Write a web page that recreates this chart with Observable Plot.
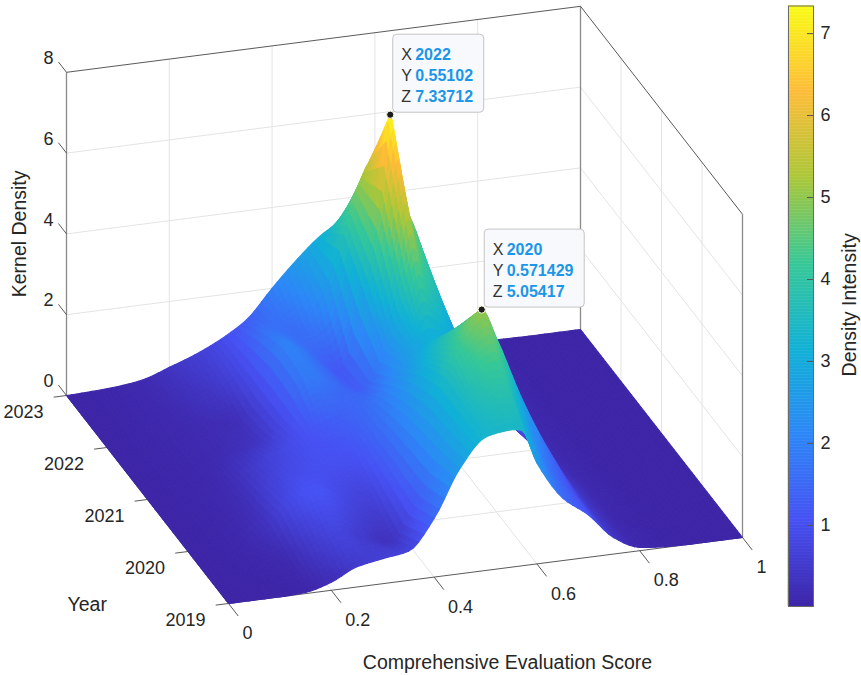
<!DOCTYPE html>
<html><head><meta charset="utf-8">
<script src="https://cdn.jsdelivr.net/npm/d3@7"></script>
<script src="https://cdn.jsdelivr.net/npm/@observablehq/plot@0.6"></script>
<style>
html,body{margin:0;padding:0;background:#fff}
#wrap{position:relative;width:861px;height:675px;overflow:hidden}
#wrap svg{position:absolute;top:0;background:transparent}
</style></head><body><div id="wrap"></div>
<script>
const scores = [0,.05,.1,.15,.2,.25,.3,.35,.4,.45,.5,.53,.551,.571,.6,.65,.7,.75,.8,.85,.9,.95,1];
const years = [2019,2019.5,2020,2020.5,2021,2021.5,2022,2022.5,2023];
const z2019   = [0,0,0,.03,.2,.5,.62,.72,1.45,2.6,3.3,3.38,3.4,3.35,2.5,1.55,1.05,.4,.08,.02,0,0,0];
const z2019h  = [0,.01,.04,.1,.5,.75,.5,.3,1.1,2.4,3.4,3.8,4.0,4.0,3.3,1.9,1.1,.4,.07,.01,0,0,0];
const z2020   = [0,.02,.08,.3,.85,1.1,.85,.65,1.2,2.3,3.5,4.3,4.8,5.054,4.3,2.7,1.4,.4,.08,.02,0,0,0];
const z2020h  = [0,.02,.06,.2,.65,.9,1.0,1.0,1.3,2.1,3.1,3.6,3.9,4.0,3.4,2.2,1.1,.3,.06,.01,0,0,0];
const z2021   = [0,.02,.05,.15,.45,.75,1.0,1.2,1.4,1.8,2.5,2.9,3.0,3.0,2.7,1.7,.8,.22,.05,.01,0,0,0];
const z2021h  = [0,.02,.05,.1,.2,.35,.9,1.9,1.6,1.3,2.2,3.5,5.0,4.3,3.6,2.1,.9,.25,.05,.01,0,0,0];
const z2022   = [0,.02,.05,.1,.15,.22,.9,2.0,1.6,1.15,3.0,5.0,7.337,5.4,4.4,2.4,1.0,.3,.06,.01,0,0,0];
const z2022h  = [0,.02,.06,.13,.28,.48,.9,1.7,1.6,2.2,3.8,5.0,5.5,4.9,3.8,2.0,.9,.27,.05,.01,0,0,0];
const z2023   = [0,.02,.06,.15,.37,.6,.9,1.3,2.0,2.65,3.2,3.4,3.5,3.4,2.9,1.6,.8,.25,.05,.01,0,0,0];
const surface = [z2019,z2019h,z2020,z2020h,z2021,z2021h,z2022,z2022h,z2023];
const zTicks = [0,2,4,6,8];
const yearTicks = [2019,2020,2021,2022,2023];
const scoreTicks = [0,.2,.4,.6,.8,1];
const scoreLabels = ["0","0.2","0.4","0.6","0.8","1"];
const barTicks = [1,2,3,4,5,6,7];
const tips = [
  {year:2022,score:0.55102,z:7.33712,ys:"2022",ss:"0.55102",zs:"7.33712",w:91},
  {year:2020,score:0.571429,z:5.05417,ys:"2020",ss:"0.571429",zs:"5.05417",w:100}
];
const parula = ["#3E26A8","#4752F4","#2D87F7","#11B1D6","#37C897","#ABC738","#FEBC38","#F9FB15"];
const zDomain = [0.01,7.337];
const colorScale = {type:"linear",domain:zDomain,interpolate:d3.piecewise(d3.interpolateRgb,parula)};
const font = "'Liberation Sans',Arial,sans-serif";

// orthographic view of the box: score, year, density -> page position
const px = (s,y) => 228 + 514*s - 162*(y-2019)/4;
const py = (s,y,z) => 603 - 66*s - 208*(y-2019)/4 - 40.4*z;
const seg = (s1,y1,z1,s2,y2,z2) => ({x1:px(s1,y1),y1:py(s1,y1,z1),x2:px(s2,y2),y2:py(s2,y2,z2)});
const linkOf = (data,o) => Plot.link(data,{x1:"x1",y1:"y1",x2:"x2",y2:"y2",...o});

// shading of the mesh: monotone curve along the score, straight between year rows
const slopes = surface.map(row => {
  const d = row.slice(1).map((v,j)=>(v-row[j])/(scores[j+1]-scores[j]));
  return row.map((_,j)=> j===0||j===row.length-1 ? 0 : (d[j-1]*d[j]<=0 ? 0 : 2*d[j-1]*d[j]/(d[j-1]+d[j])));
});
const along = (i,j,v) => {
  const h=scores[j+1]-scores[j], a=surface[i][j], b=surface[i][j+1], m0=slopes[i][j], m1=slopes[i][j+1];
  const v2=v*v, v3=v2*v;
  return (2*v3-3*v2+1)*a+(v3-2*v2+v)*h*m0+(-2*v3+3*v2)*b+(v3-v2)*h*m1;
};
const NT = 8, NS = 5, patches = [];
for (let i=0;i<years.length-1;i++) for (let j=0;j<scores.length-1;j++) for (let a=0;a<NT;a++) for (let b=0;b<NS;b++) {
  const at = (u,v) => ({
    s:scores[j]+(scores[j+1]-scores[j])*v,
    y:years[i]+(years[i+1]-years[i])*u,
    z:(1-u)*along(i,j,v)+u*along(i+1,j,v)
  });
  const c = [at(a/NT,b/NS),at(a/NT,(b+1)/NS),at((a+1)/NT,(b+1)/NS),at((a+1)/NT,b/NS)];
  const m = at((a+.5)/NT,(b+.5)/NS);
  patches.push({c,v:m.z,depth:66*m.s+208*(m.y-2019)/4});
}
patches.sort((p,q)=>q.depth-p.depth);
const verts = patches.flatMap((p,id)=>p.c.map(d=>({id,v:p.v,x:px(d.s,d.y),y:py(d.s,d.y,d.z)})));

const grid = [
  ...zTicks.slice(1,-1).flatMap(z=>[seg(0,2023,z,1,2023,z),seg(1,2023,z,1,2019,z)]),
  ...scoreTicks.slice(1,-1).flatMap(s=>[seg(s,2023,0,s,2023,8),seg(s,2019,0,s,2023,0)]),
  ...yearTicks.slice(1,-1).flatMap(y=>[seg(1,y,0,1,y,8),seg(0,y,0,1,y,0)])
];
const edges = [seg(0,2023,0,0,2023,8),seg(1,2023,0,1,2023,8),seg(1,2019,0,1,2019,8)];
const topEdges = [seg(0,2023,8,1,2023,8),seg(1,2023,8,1,2019,8),seg(0,2019,0,1,2019,0),seg(0,2019,0,0,2023,0)];
const ticks = [
  ...zTicks.map(z=>seg(0,2023,z,0,2023+.2,z)),
  ...yearTicks.map(y=>seg(0,y,0,-.025,y,0)),
  ...scoreTicks.map(s=>seg(s,2019,0,s,2019-.24,0))
];
const txt = {fontSize:18,fill:"#262626",fontFamily:font};
const lab = {...txt,fontSize:19.5};

const main = Plot.plot({
  width:861,height:675,margin:0,
  x:{domain:[0,861],range:[0,861],axis:null},
  y:{domain:[0,675],range:[0,675],axis:null},
  color:colorScale,
  marks:[
    linkOf(grid,{stroke:"#e4e4e4",strokeWidth:1}),
    linkOf(edges,{stroke:"#8a8a8a",strokeWidth:1.3}),
    linkOf(topEdges,{stroke:"#5a5a5a",strokeWidth:1}),
    linkOf(ticks,{stroke:"#5a5a5a",strokeWidth:1}),
    Plot.line(verts,{x:"x",y:"y",z:"id",fill:"v",stroke:"v",strokeWidth:1.1,curve:"linear-closed"}),
    Plot.text(zTicks,{x:z=>px(0,2023),y:z=>py(0,2023,z),text:d=>String(d),dx:-18,dy:-14,...txt}),
    Plot.text(yearTicks,{x:y=>px(0,y),y:y=>py(0,y,0),text:d=>String(d),dx:-43,dy:17,...txt}),
    Plot.text(scoreTicks,{x:s=>px(s,2019),y:s=>py(s,2019,0),text:(d,i)=>scoreLabels[i],dx:14,dy:30,textAnchor:"start",...txt}),
    Plot.text(["Comprehensive Evaluation Score"],{x:()=>px(.5,2019)+22,y:()=>py(.5,2019,0)+92,text:d=>d,...lab}),
    Plot.text(["Year"],{x:()=>px(0,2019.5)-121,y:()=>py(0,2019.5,0)+27,text:d=>d,...lab}),
    Plot.text(["Kernel Density"],{x:()=>px(0,2023)-47,y:()=>py(0,2023,4),rotate:-90,text:d=>d,...lab}),
    Plot.rect(tips,{x1:d=>px(d.score,d.year)+3,x2:d=>px(d.score,d.year)+3+d.w,y1:d=>py(d.score,d.year,d.z)-80,y2:d=>py(d.score,d.year,d.z)-2,fill:"#f8f9fd",stroke:"#c4c4c4",strokeWidth:1,r:4}),
    ...[["X","ys",-60],["Y","ss",-39],["Z","zs",-18]].flatMap(([name,key,dy])=>[
      Plot.text(tips,{x:d=>px(d.score,d.year)+11,y:d=>py(d.score,d.year,d.z),text:()=>name,dy,textAnchor:"start",fontSize:16,fill:"#333",fontFamily:font}),
      Plot.text(tips,{x:d=>px(d.score,d.year)+25,y:d=>py(d.score,d.year,d.z),text:d=>d[key],dy,textAnchor:"start",fontSize:16,fontWeight:"bold",fill:"#1b96e8",fontFamily:font})
    ]),
    Plot.dot(tips,{x:d=>px(d.score,d.year),y:d=>py(d.score,d.year,d.z),r:3.6,fill:"#1c1c1c",stroke:"#fffbe0",strokeWidth:1})
  ],
  style:{background:"transparent",fontFamily:font}
});

const bandEdges = d3.range(0,201).map(i=>zDomain[0]+(zDomain[1]-zDomain[0])*i/200);
const bands = bandEdges.slice(0,-1).map((lo,i)=>({lo,hi:bandEdges[i+1]}));
const bar = Plot.plot({
  width:91,height:675,marginLeft:18,marginRight:48,marginTop:5.5,marginBottom:69,
  x:{domain:[0,1],axis:null},
  y:{domain:zDomain,axis:null},
  color:colorScale,
  marks:[
    Plot.rect(bands,{x1:0,x2:1,y1:"lo",y2:"hi",fill:d=>(d.lo+d.hi)/2,stroke:d=>(d.lo+d.hi)/2,strokeWidth:.4}),
    Plot.ruleY(barTicks,{x1:.76,x2:1,stroke:"#555",strokeWidth:1}),
    Plot.frame({stroke:"#6a6a6a",strokeWidth:1}),
    Plot.text(barTicks,{x:1,y:d=>d,text:d=>String(d),dx:7,textAnchor:"start",...txt}),
    Plot.text(["Density Intensity"],{x:1,y:()=>3.69,text:d=>d,rotate:-90,dx:36,...lab})
  ],
  style:{background:"transparent",fontFamily:font}
});
bar.style.left="770px";
main.style.left="0px";
document.getElementById("wrap").append(main,bar);
</script></body></html>
